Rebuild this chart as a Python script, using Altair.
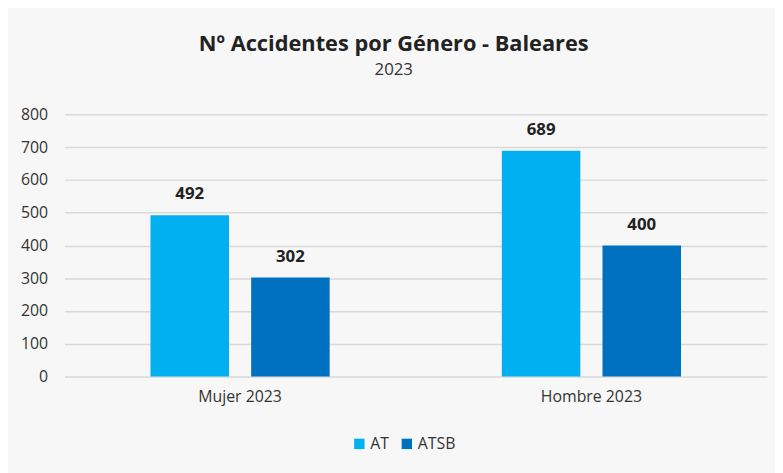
import altair as alt
import pandas as pd

categories = ["Mujer 2023", "Hombre 2023"]
series = ["AT", "ATSB"]
at_values = [492, 689]
atsb_values = [302, 400]
colors = ["#00b0f0", "#0070c0"]

rows = []
for i, c in enumerate(categories):
    rows.append({"cat": c, "serie": "AT", "value": at_values[i]})
    rows.append({"cat": c, "serie": "ATSB", "value": atsb_values[i]})
df = pd.DataFrame(rows)

FONT = "Open Sans"

x = alt.X("cat:N", sort=categories, title=None,
          scale=alt.Scale(paddingInner=0.49, paddingOuter=0.245, round=False),
          axis=alt.Axis(labelAngle=0, labelFontSize=16, labelPadding=12,
                        ticks=False, domain=False, labelColor="#333333", labelFont=FONT))
xo = alt.XOffset("serie:N", sort=series, scale=alt.Scale(paddingInner=0.22, paddingOuter=0))
y = alt.Y("value:Q", title=None,
          scale=alt.Scale(domain=[0, 800]),
          axis=alt.Axis(values=list(range(0, 801, 100)), labelFontSize=16, labelPadding=17,
                        ticks=False, domain=False, gridColor="#d9d9d9", gridWidth=1.5,
                        labelColor="#333333", labelFont=FONT))

bars = alt.Chart(df).mark_bar().encode(
    x=x, xOffset=xo, y=y,
    color=alt.Color("serie:N", sort=series,
                    scale=alt.Scale(domain=series, range=colors),
                    legend=alt.Legend(title=None, orient="none", direction="horizontal",
                                      legendX=290, legendY=325,
                                      symbolType="square", symbolSize=110, labelFontSize=16,
                                      labelFont=FONT, labelColor="#333333", columnPadding=10,
                                      symbolStrokeWidth=0, labelOffset=3)),
)

labels = alt.Chart(df).mark_text(baseline="bottom", dy=-12, fontSize=17, fontWeight="bold",
                                 font=FONT, color="#222222").encode(
    x=x, xOffset=xo, y=y, text=alt.Text("value:Q"),
)

chart = alt.layer(bars, labels).properties(
    width=710, height=265,
    background="#f7f7f7",
    padding={"left": 57, "top": 105, "right": 8, "bottom": 95},
    autosize=alt.AutoSizeParams(type="none"),
    title=alt.TitleParams(text="Nº Accidentes por Género - Baleares", subtitle="2023",
                          anchor="middle", frame="bounds", font=FONT, fontSize=22,
                          fontWeight="bold", color="#222222", subtitleFont=FONT,
                          subtitleFontSize=17, subtitleColor="#333333", offset=28,
                          subtitlePadding=6),
).configure_view(stroke=None)

chart.save("out.html", embed_options={"renderer": "svg", "actions": False})
